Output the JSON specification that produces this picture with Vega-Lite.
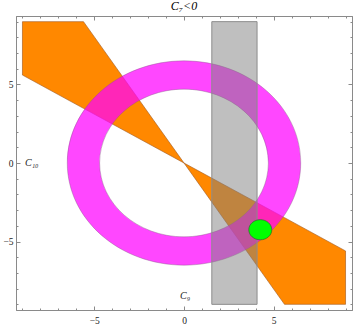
{
  "$schema": "https://vega.github.io/schema/vega-lite/v6.json",
  "width": 336,
  "height": 294,
  "autosize": "none",
  "padding": {"left": 16, "top": 16, "right": 2, "bottom": 14},
  "title": {"text": "C₇<0", "font": "Liberation Serif", "fontSize": 12, "fontWeight": "normal", "fontStyle": "italic", "offset": 3, "anchor": "middle", "color": "#000000"},
  "config": {
    "view": {"stroke": "#8a8a8a", "strokeWidth": 1},
    "axis": {"grid": false, "title": null, "domainColor": "#8a8a8a", "tickColor": "#8a8a8a", "labelFont": "Liberation Serif", "labelFontSize": 9.5, "labelColor": "#222222", "labelFlush": false, "labelOverlap": false}
  },
  "datasets": {
    "bowtie": [
      {"part": "NW", "x": -9, "top": 9, "bottom": 5.6},
      {"part": "NW", "x": -5.6, "top": 9, "bottom": 3.48},
      {"part": "NW", "x": 0, "top": 0, "bottom": 0},
      {"part": "SE", "x": 0, "top": 0, "bottom": 0},
      {"part": "SE", "x": 5.6, "top": -3.48, "bottom": -9},
      {"part": "SE", "x": 9, "top": -5.6, "bottom": -9}
    ],
    "ring": [{"x": 0, "y": 0}],
    "band": [{"x1": 1.55, "x2": 4.07, "y1": -9, "y2": 9}],
    "spot": [{"x": 4.25, "y": -4.25}],
    "labels": [
      {"label": "C₁₀", "x": -8.86, "y": 0},
      {"label": "C₉", "x": -0.22, "y": -8.5}
    ]
  },
  "layer": [
    {
      "data": {"name": "bowtie"},
      "mark": {"type": "area", "fill": "#FF8800", "fillOpacity": 1, "stroke": "#a0561a", "strokeWidth": 0.6},
      "encoding": {
        "x": {"field": "x", "type": "quantitative", "scale": {"domain": [-9.36, 9.36], "nice": false, "zero": false},
          "axis": {"orient": "bottom", "values": [-9,-8,-7,-6,-5,-4,-3,-2,-1,0,1,2,3,4,5,6,7,8,9],
            "tickSize": {"condition": {"test": "datum.value % 5 === 0", "value": -4}, "value": -2},
            "labelExpr": "datum.value % 5 === 0 ? datum.label : ''", "labelPadding": 9}},
        "y": {"field": "top", "type": "quantitative", "scale": {"domain": [-9.36, 9.36], "nice": false, "zero": false},
          "axis": {"orient": "left", "values": [-9,-8,-7,-6,-5,-4,-3,-2,-1,0,1,2,3,4,5,6,7,8,9],
            "tickSize": {"condition": {"test": "datum.value % 5 === 0", "value": -4}, "value": -2},
            "labelExpr": "datum.value % 5 === 0 ? datum.label : ''", "labelPadding": 7}},
        "y2": {"field": "bottom"},
        "detail": {"field": "part"}
      }
    },
    {
      "data": {"name": "ring"},
      "mark": {"type": "point", "shape": "M -1 0 A 1 0.8752 0 1 1 1 0 A 1 0.8752 0 1 1 -1 0 Z M -0.7231 0 A 0.7231 0.6328 0 1 0 0.7231 0 A 0.7231 0.6328 0 1 0 -0.7231 0 Z", "size": 54475, "filled": true, "opacity": 1, "fill": "#FF00FF", "fillOpacity": 0.72, "stroke": "#8a5a8a", "strokeWidth": 0.6, "strokeOpacity": 0.7},
      "encoding": {
        "x": {"field": "x", "type": "quantitative",
          "axis": {"orient": "top", "values": [-9,-8,-7,-6,-5,-4,-3,-2,-1,0,1,2,3,4,5,6,7,8,9], "labels": false,
            "tickSize": {"condition": {"test": "datum.value % 5 === 0", "value": -4}, "value": -2}}},
        "y": {"field": "y", "type": "quantitative",
          "axis": {"orient": "right", "values": [-9,-8,-7,-6,-5,-4,-3,-2,-1,0,1,2,3,4,5,6,7,8,9], "labels": false,
            "tickSize": {"condition": {"test": "datum.value % 5 === 0", "value": -4}, "value": -2}}}
      }
    },
    {
      "data": {"name": "band"},
      "mark": {"type": "rect", "fill": "#808080", "fillOpacity": 0.5, "stroke": "#8c8c8c", "strokeWidth": 1},
      "encoding": {
        "x": {"field": "x1", "type": "quantitative", "axis": null},
        "x2": {"field": "x2"},
        "y": {"field": "y1", "type": "quantitative", "axis": null},
        "y2": {"field": "y2"}
      }
    },
    {
      "data": {"name": "spot"},
      "mark": {"type": "point", "shape": "M -1 0 A 1 0.8752 0 1 1 1 0 A 1 0.8752 0 1 1 -1 0 Z", "size": 529, "filled": true, "opacity": 1, "fill": "#00FF00", "fillOpacity": 1, "stroke": "#2a6a2a", "strokeWidth": 0.7},
      "encoding": {
        "x": {"field": "x", "type": "quantitative", "axis": null},
        "y": {"field": "y", "type": "quantitative", "axis": null}
      }
    },
    {
      "data": {"name": "labels"},
      "mark": {"type": "text", "font": "Liberation Serif", "fontStyle": "italic", "fontSize": 10, "align": "left", "baseline": "middle", "color": "#222222"},
      "encoding": {
        "x": {"field": "x", "type": "quantitative", "axis": null},
        "y": {"field": "y", "type": "quantitative", "axis": null},
        "text": {"field": "label"}
      }
    }
  ],
  "resolve": {"axis": {"x": "independent", "y": "independent"}}
}
